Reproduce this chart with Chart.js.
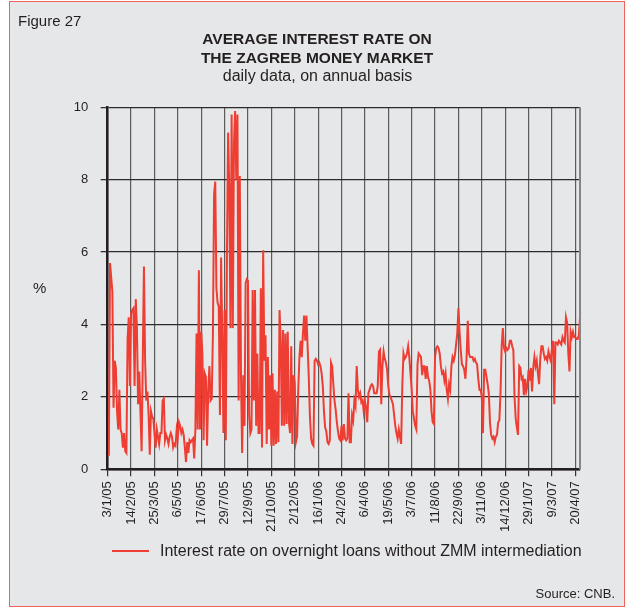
<!DOCTYPE html>
<html>
<head>
<meta charset="utf-8">
<script src="https://cdn.jsdelivr.net/npm/chart.js@4.4.1/dist/chart.umd.min.js"></script>
<style>
  html, body { margin: 0; padding: 0; background: #fff; }
  #page { position: relative; width: 626px; height: 608px; overflow: hidden; font-family: "Liberation Sans", Arial, sans-serif; color: #231f20; }
  #box { position: absolute; left: 9px; top: 0.5px; width: 616px; height: 606px; box-sizing: border-box; border: 1.5px solid #f0625a; background: #e6e7e8; }
  #chart { position: absolute; left: 0; top: 0; }
  .txt { position: absolute; white-space: nowrap; }
</style>
</head>
<body>
<div id="page">
  <div id="box"></div>
  <canvas id="chart" width="626" height="608"></canvas>
  <div class="txt" style="left:18px; top:13px; font-size:15px; line-height:15px;">Figure 27</div>
  <div class="txt" style="left:17px; width:600px; top:29.4px; text-align:center; font-weight:bold; font-size:15.5px; line-height:19px;">AVERAGE INTEREST RATE ON<br>THE ZAGREB MONEY MARKET</div>
  <div class="txt" style="left:17px; width:601px; top:66px; text-align:center; font-size:16px; line-height:19px;">daily data, on annual basis</div>
  <div class="txt" style="left:33px; top:280px; font-size:15px; line-height:15px;">%</div>
  <div class="txt" id="legLine" style="left:112px; top:549.5px; width:37px; height:2px;"></div>
  <div class="txt" style="left:160px; top:543.4px; font-size:16px; line-height:16px;">Interest rate on overnight loans without ZMM intermediation</div>
  <div class="txt" style="right:11px; top:587px; font-size:13px; line-height:13px;">Source: CNB.</div>
</div>
<script>
// one label every STEP points on the x axis
const STEP = 20;
const tickLabels = ['3/1/05', '14/2/05', '25/3/05', '6/5/05', '17/6/05', '29/7/05', '12/9/05', '21/10/05',
  '2/12/05', '16/1/06', '24/2/06', '6/4/06', '19/5/06', '3/7/06', '11/8/06', '22/9/06', '3/11/06',
  '14/12/06', '29/1/07', '9/3/07', '20/4/07'];

// overnight rate, % (one row per label interval)
const rates = [
  0.4, 0.4, 5.7, 5.3, 4.9, 1.7, 3.0, 2.8, 1.6, 1.1, 2.2, 1.1, 1.0, 0.6, 1.0, 0.5, 0.45, 3.6, 4.2, 2.3,
  4.3, 4.4, 4.45, 2.3, 4.7, 3.9, 1.8, 2.7, 1.6, 0.5, 3.0, 5.6, 3.0, 1.9, 2.15, 1.5, 0.4, 1.6, 1.45, 1.4,
  1.0, 0.6, 1.1, 0.9, 0.7, 1.0, 1.0, 1.9, 1.95, 0.8, 0.95, 0.85, 0.7, 0.9, 1.0, 0.9, 0.6, 0.7, 0.65, 1.1,
  0.9, 1.3, 1.2, 1.0, 1.1, 0.95, 0.6, 0.2, 0.75, 0.45, 0.8, 0.75, 0.8, 0.85, 0.3, 1.1, 3.75, 1.1, 5.5, 1.1,
  3.8, 3.2, 0.8, 2.65, 2.55, 0.65, 2.2, 2.85, 1.9, 1.95, 3.75, 7.6, 7.95, 5.0, 4.6, 4.5, 1.5, 5.85, 3.7, 1.0,
  4.4, 0.8, 5.9, 9.3, 7.7, 3.9, 9.8, 3.9, 9.0, 9.9, 8.0, 9.8, 1.9, 8.1, 2.6, 0.45, 2.6, 1.2, 5.15, 5.25,
  5.2, 1.5, 1.0, 1.1, 4.95, 1.9, 4.95, 1.2, 3.2, 1.0, 1.0, 5.0, 0.6, 6.05, 3.0, 3.7, 0.7, 3.1, 1.1, 2.6,
  0.65, 2.65, 0.65, 2.2, 0.7, 2.15, 0.75, 4.4, 3.55, 1.2, 3.85, 1.2, 3.75, 1.25, 3.8, 1.3, 1.0, 3.4, 0.7, 2.6,
  2.4, 0.75, 0.9, 2.2, 3.1, 3.55, 3.1, 3.75, 4.25, 3.55, 4.25, 3.4, 2.55, 1.45, 0.85, 0.7, 0.65, 3.0, 3.05, 3.0,
  2.9, 2.95, 2.85, 2.65, 2.3, 1.6, 1.15, 1.05, 0.75, 0.7, 0.8, 2.95, 2.85, 2.35, 1.9, 1.65, 1.3, 1.05, 0.85, 0.8,
  1.2, 0.8, 1.25, 0.85, 0.8, 0.85, 2.1, 0.75, 0.75, 1.5, 1.35, 1.9, 1.75, 2.85, 2.2, 2.0, 2.1, 1.85, 1.9, 1.6,
  1.9, 1.7, 1.3, 2.1, 2.2, 2.3, 2.35, 2.3, 2.1, 2.1, 2.1, 2.3, 3.25, 3.3, 1.8, 2.85, 3.25, 3.05, 2.95, 2.75,
  2.3, 2.05, 2.0, 1.9, 1.8, 1.5, 1.2, 1.0, 0.85, 1.1, 0.9, 0.7, 2.3, 3.2, 3.05, 3.1, 3.2, 3.4, 3.1, 2.65,
  2.2, 1.6, 1.4, 1.2, 1.1, 2.9, 3.2, 3.15, 3.1, 2.6, 2.85, 2.85, 2.5, 2.85, 2.55, 2.45, 2.2, 1.6, 1.3, 1.25,
  3.1, 3.35, 3.4, 3.35, 3.2, 2.85, 2.65, 2.7, 2.45, 2.65, 2.2, 1.95, 2.35, 2.2, 2.85, 3.1, 3.0, 3.15, 3.45, 3.75,
  4.45, 3.8, 3.3, 2.9, 2.85, 2.75, 2.5, 3.1, 4.1, 3.2, 3.1, 3.1, 3.1, 3.0, 3.05, 2.95, 2.9, 2.5, 2.2, 2.2,
  2.0, 1.0, 2.75, 2.75, 2.55, 2.35, 2.1, 1.3, 0.95, 0.85, 0.9, 0.75, 0.9, 0.95, 1.3, 1.35, 2.1, 3.4, 3.9, 3.35,
  3.25, 3.35, 3.3, 3.35, 3.55, 3.55, 3.4, 3.3, 2.0, 1.4, 1.15, 0.95, 2.85, 2.8, 2.5, 2.55, 2.05, 2.5, 2.15, 2.3,
  2.75, 2.45, 2.8, 2.15, 2.8, 3.1, 2.85, 3.0, 2.65, 2.35, 3.05, 3.4, 3.4, 3.2, 3.05, 3.1, 3.0, 3.25, 3.1, 3.0,
  3.35, 3.55, 1.8, 3.5, 3.5, 3.45, 3.55, 3.5, 3.45, 3.65, 3.55, 3.5, 4.2, 4.05, 3.2, 2.7, 3.8, 3.65, 3.8, 3.65,
  3.65, 3.6, 3.6, 3.7, 4.2
];

const LINE_RED = '#ee3d32';
const INK = '#231f20';
const FONT = '"Liberation Sans", Arial, sans-serif';
document.getElementById('legLine').style.background = LINE_RED;

// grey right edge of the plot frame
const frameEdge = {
  id: 'frameEdge',
  afterDraw(chart) {
    const { ctx, chartArea: a } = chart;
    ctx.save();
    ctx.strokeStyle = '#858585';
    ctx.lineWidth = 2;
    ctx.beginPath();
    ctx.moveTo(a.right, a.top);
    ctx.lineTo(a.right, a.bottom);
    ctx.stroke();
    ctx.restore();
  }
};

new Chart(document.getElementById('chart'), {
  type: 'line',
  data: {
    datasets: [{
      data: rates.map((v, i) => ({ x: i, y: v })),
      borderColor: LINE_RED,
      borderWidth: 2,
      pointRadius: 0,
      tension: 0,
      fill: false
    }]
  },
  options: {
    responsive: false,
    animation: false,
    events: [],
    layout: { padding: { top: 107.3, right: 46, bottom: 0, left: 0 } },
    plugins: { legend: { display: false }, tooltip: { enabled: false } },
    scales: {
      x: {
        type: 'linear',
        min: 0,
        max: rates.length - 1,
        afterFit: s => { s.height = 138.7; },
        grid: { color: '#5b5b5b', lineWidth: 1.2, tickLength: 7, tickColor: '#333' },
        border: { color: INK, width: 2.5 },
        ticks: {
          stepSize: STEP,
          autoSkip: false,
          includeBounds: false,
          minRotation: 90,
          maxRotation: 90,
          padding: 5,
          color: INK,
          font: { family: FONT, size: 13 },
          callback: v => tickLabels[v / STEP] ?? ''
        }
      },
      y: {
        min: 0,
        max: 10,
        afterFit: s => { s.width = 107.7; },
        grid: { color: '#2b2b2b', lineWidth: 1.3, tickLength: 7, tickColor: '#333' },
        border: { color: INK, width: 2.5 },
        ticks: { stepSize: 2, padding: 12.4, color: INK, font: { family: FONT, size: 13 } }
      }
    }
  },
  plugins: [frameEdge]
});
</script>
</body>
</html>
